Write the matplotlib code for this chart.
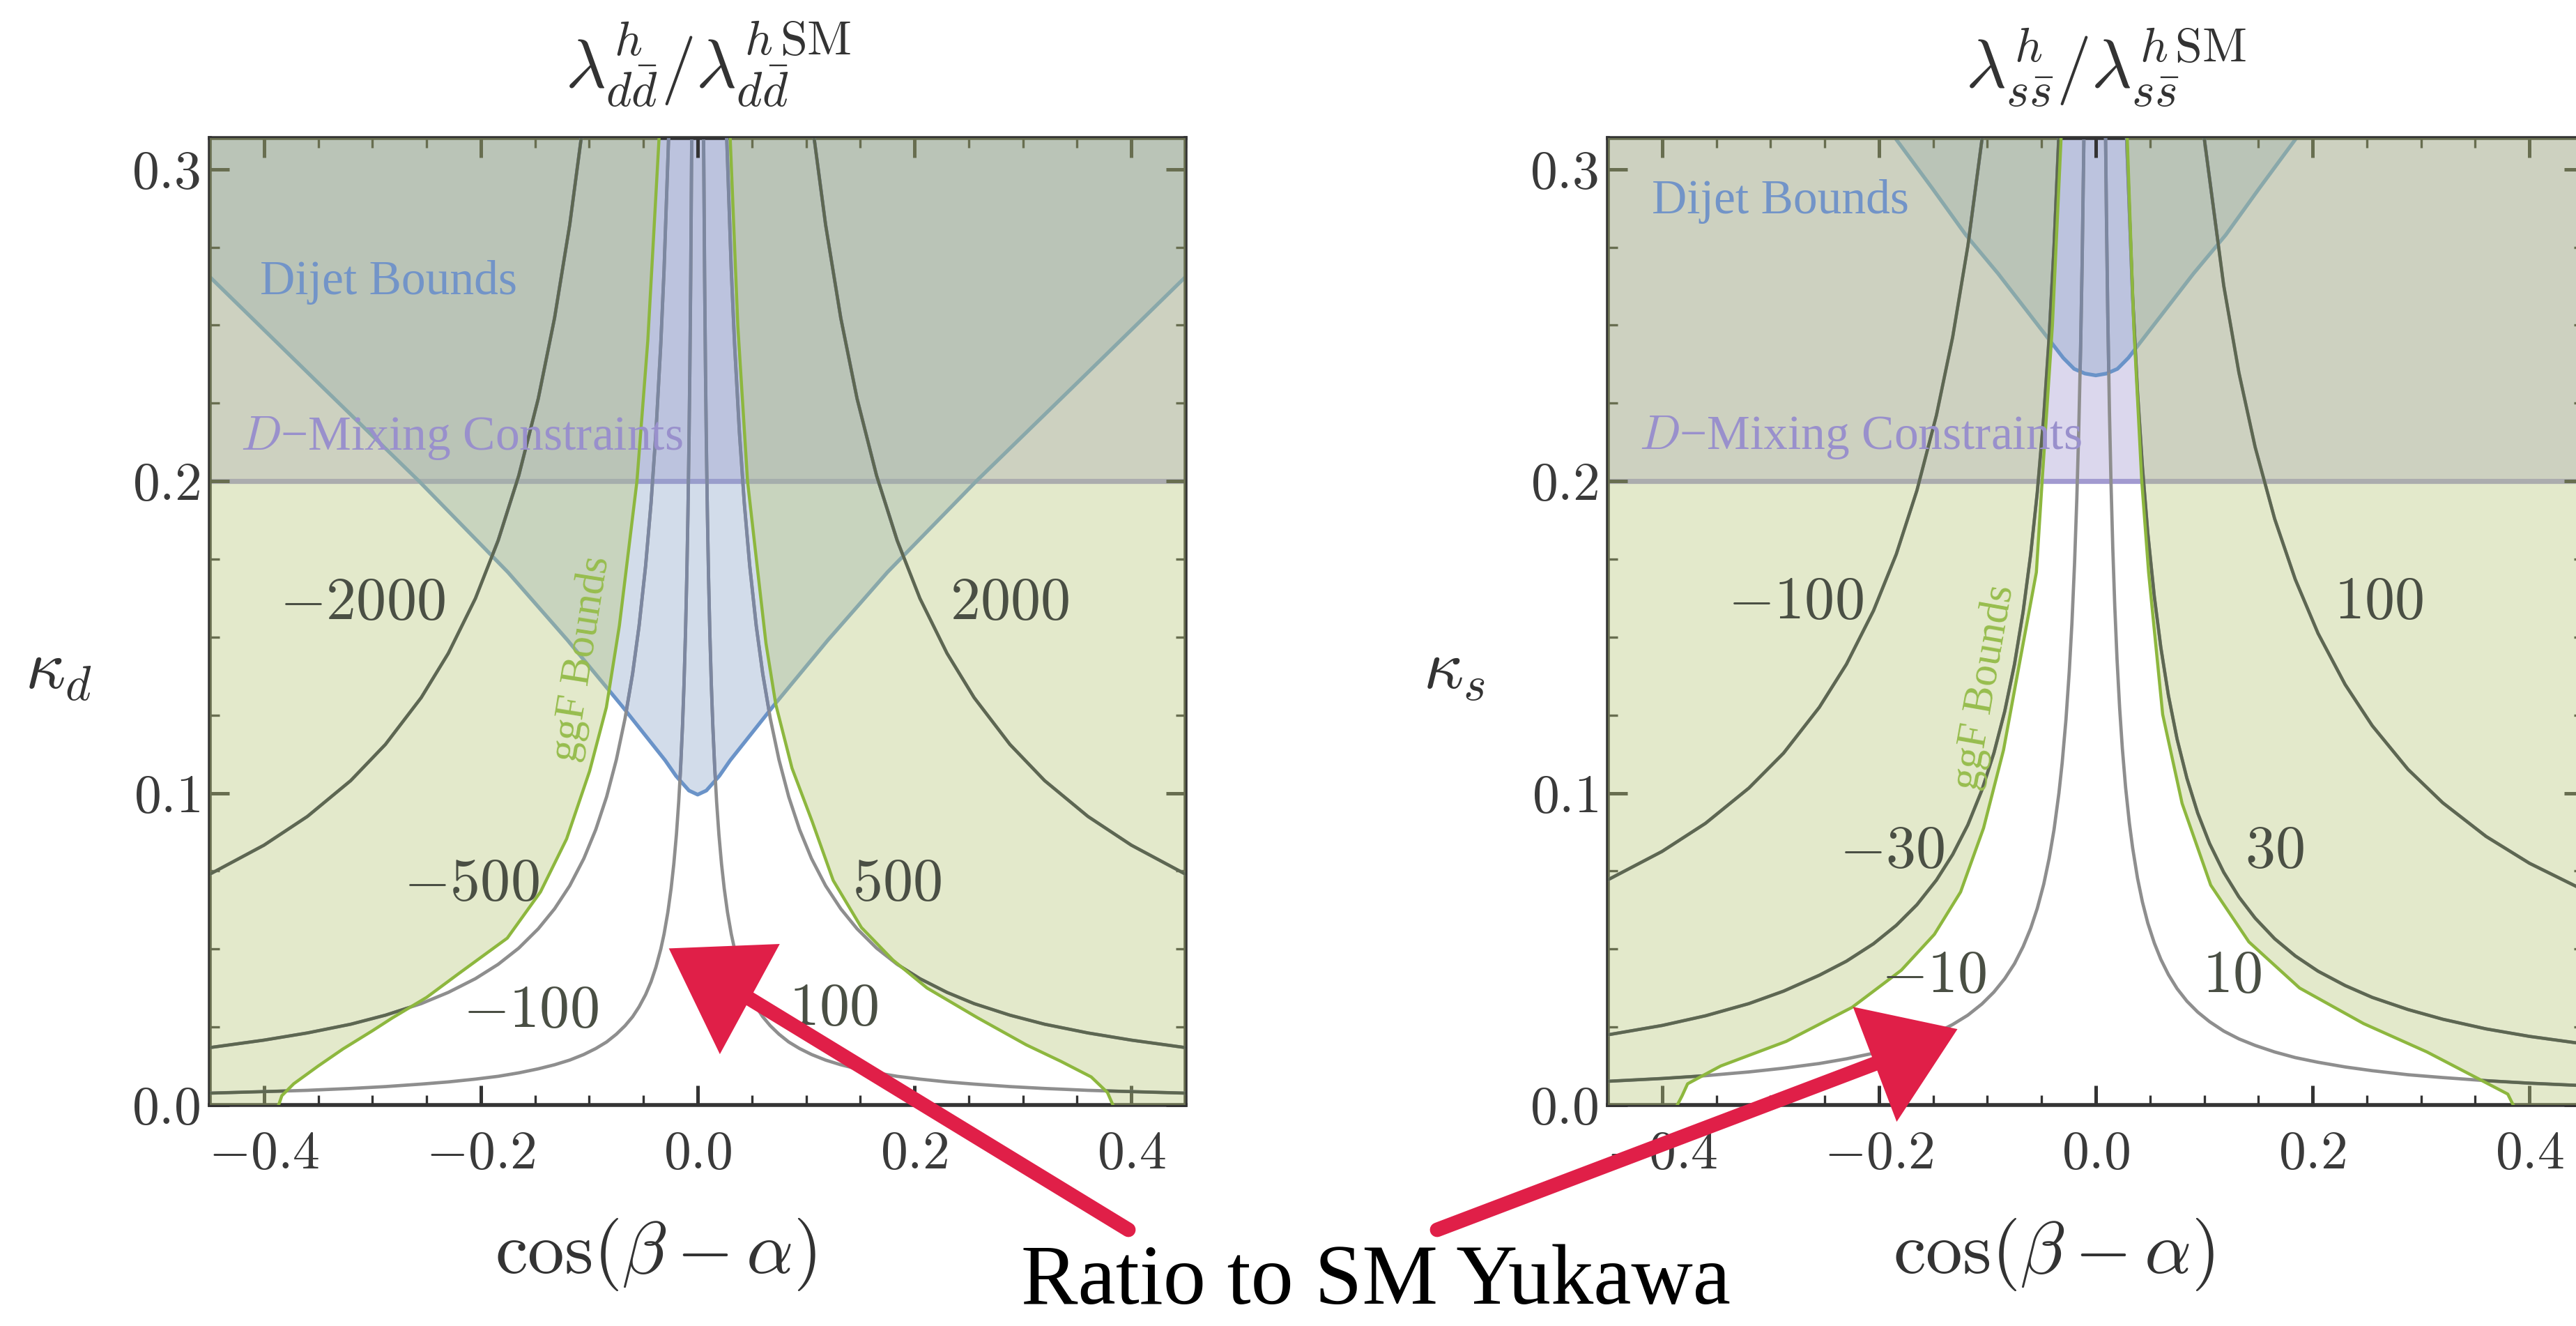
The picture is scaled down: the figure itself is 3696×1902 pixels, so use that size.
import numpy as np
import matplotlib
matplotlib.use("Agg")
import matplotlib.pyplot as plt
from matplotlib.path import Path
from matplotlib.patches import Polygon
from matplotlib.lines import Line2D
from matplotlib.ticker import MultipleLocator, FuncFormatter

plt.rcParams['mathtext.fontset'] = 'cm'
plt.rcParams['font.family'] = ['Liberation Serif', 'DejaVu Serif']

# ------------------------------------------------------------------ data
XLIM = (-0.45, 0.45)
YLIM = (0.0, 0.31)
x_major = [-0.4, -0.2, 0.0, 0.2, 0.4]
y_major = [0.0, 0.1, 0.2, 0.3]
d_mixing_kappa = 0.2

# ---- down quark panel: symmetric contours, |cos(b-a)| vs kappa_d
d_abs_2000 = [0.45, 0.40, 0.36, 0.32, 0.288, 0.255, 0.23, 0.205, 0.184, 0.165, 0.147, 0.132, 0.118, 0.1074]
d_kap_2000 = [0.074, 0.0833, 0.0925, 0.104, 0.1156, 0.1306, 0.1448, 0.1624, 0.181, 0.2018, 0.2265, 0.2523, 0.2822, 0.31]

d_abs_500 = [0.45, 0.40, 0.36, 0.32, 0.288, 0.255, 0.23, 0.205, 0.184, 0.165, 0.147, 0.132, 0.118,
             0.105, 0.094, 0.084, 0.075, 0.067, 0.060, 0.054, 0.048, 0.043, 0.0385, 0.034, 0.031, 0.0268]
d_kap_500 = [0.0184, 0.0208, 0.0231, 0.0259, 0.0288, 0.0325, 0.0361, 0.0405, 0.0451, 0.0503, 0.0565, 0.0629, 0.0703,
             0.079, 0.0883, 0.0988, 0.1107, 0.1239, 0.1383, 0.1537, 0.1729, 0.193, 0.2156, 0.2441, 0.2677, 0.31]

d_abs_100 = [0.45, 0.40, 0.36, 0.32, 0.288, 0.255, 0.23, 0.205, 0.184, 0.165, 0.147, 0.132, 0.118, 0.105,
             0.094, 0.084, 0.075, 0.067, 0.060, 0.054, 0.048, 0.043, 0.0385, 0.034, 0.031, 0.0275, 0.0245,
             0.022, 0.0196, 0.0175, 0.0157, 0.014, 0.0126, 0.0112, 0.010, 0.009, 0.008, 0.0072, 0.0064, 0.0055]
d_kap_100 = [0.0038, 0.0043, 0.0047, 0.0053, 0.0059, 0.0067, 0.0074, 0.0083, 0.0092, 0.0103, 0.0116, 0.0129, 0.0144, 0.0162,
             0.0181, 0.0202, 0.0227, 0.0254, 0.0283, 0.0315, 0.0354, 0.0395, 0.0442, 0.05, 0.0548, 0.0618, 0.0694,
             0.0773, 0.0867, 0.0971, 0.1083, 0.1214, 0.1349, 0.1518, 0.17, 0.189, 0.2125, 0.236, 0.2656, 0.309]

d_ggf_left_cos = [-0.3865, -0.3835, -0.3726, -0.350, -0.327, -0.300, -0.2817, -0.250, -0.2209, -0.1756,
                  -0.145, -0.1209, -0.0997, -0.0842, -0.0722, -0.0662, -0.056, -0.046, -0.0356]
d_ggf_left_kap = [0.0, 0.003, 0.0068, 0.0125, 0.018, 0.0238, 0.0279, 0.0345, 0.042, 0.0535,
                  0.0683, 0.0853, 0.107, 0.1275, 0.1537, 0.1708, 0.2, 0.245, 0.31]
d_ggf_right_cos = [0.383, 0.378, 0.363, 0.335, 0.303, 0.258, 0.2116, 0.180, 0.151, 0.125,
                   0.1055, 0.087, 0.072, 0.063, 0.0555, 0.046, 0.037, 0.030]
d_ggf_right_kap = [0.0, 0.004, 0.009, 0.014, 0.0193, 0.028, 0.0375, 0.0465, 0.0569, 0.072,
                   0.091, 0.108, 0.1285, 0.148, 0.1708, 0.2, 0.25, 0.31]

d_dijet_abs = [0.0, 0.008, 0.02, 0.03, 0.07, 0.12, 0.175, 0.257, 0.35, 0.45]
d_dijet_kap = [0.0995, 0.1008, 0.1055, 0.1105, 0.128, 0.149, 0.1708, 0.2, 0.2315, 0.2655]

d_labels = ['$-2000$', '$-500$', '$-100$', '$100$', '$500$', '$2000$']

# ---- strange quark panel
s_cos_m100 = [-0.45, -0.40, -0.36, -0.32, -0.288, -0.255, -0.23, -0.205, -0.184, -0.165, -0.147, -0.132, -0.118, -0.1048]
s_kap_m100 = [0.0722, 0.0813, 0.0903, 0.1016, 0.1128, 0.1275, 0.1413, 0.1585, 0.1766, 0.197, 0.2211, 0.2462, 0.2754, 0.31]
s_cos_p100 = [0.45, 0.40, 0.36, 0.32, 0.288, 0.255, 0.23, 0.205, 0.184, 0.165, 0.147, 0.132, 0.118, 0.100]
s_kap_p100 = [0.0689, 0.0775, 0.0861, 0.0969, 0.1076, 0.1216, 0.1348, 0.1512, 0.1685, 0.1879, 0.2109, 0.2348, 0.2627, 0.31]

s_cos_m30 = [-0.45, -0.40, -0.36, -0.32, -0.288, -0.255, -0.23, -0.205, -0.184, -0.165, -0.147, -0.132,
             -0.118, -0.105, -0.094, -0.084, -0.075, -0.067, -0.060, -0.054, -0.048, -0.043, -0.0385, -0.0342]
s_kap_m30 = [0.0225, 0.0255, 0.0286, 0.0325, 0.0365, 0.0416, 0.0461, 0.0517, 0.0576, 0.0642, 0.0721, 0.0803,
             0.0898, 0.101, 0.1128, 0.1262, 0.1413, 0.1582, 0.1767, 0.1963, 0.2208, 0.2465, 0.2753, 0.31]
s_cos_p30 = [0.45, 0.40, 0.36, 0.32, 0.288, 0.255, 0.23, 0.205, 0.184, 0.165, 0.147, 0.132,
             0.118, 0.105, 0.094, 0.084, 0.075, 0.067, 0.060, 0.054, 0.048, 0.043, 0.0385, 0.034, 0.0284]
s_kap_p30 = [0.0196, 0.022, 0.0244, 0.0275, 0.0306, 0.0345, 0.0383, 0.0429, 0.0478, 0.0533, 0.0599, 0.0667,
             0.0746, 0.0838, 0.0936, 0.1048, 0.1173, 0.1313, 0.1467, 0.163, 0.1833, 0.2047, 0.2286, 0.2588, 0.31]

s_cos_m10 = [-0.45, -0.40, -0.36, -0.32, -0.288, -0.255, -0.23, -0.205, -0.184, -0.165, -0.147, -0.132,
             -0.118, -0.105, -0.094, -0.084, -0.075, -0.067, -0.060, -0.054, -0.048, -0.043, -0.0385,
             -0.034, -0.031, -0.0275, -0.0245, -0.022, -0.0196, -0.0175, -0.0157, -0.014, -0.0126, -0.011]
s_kap_m10 = [0.0076, 0.0085, 0.0094, 0.0106, 0.0118, 0.0133, 0.0148, 0.0166, 0.0185, 0.0206, 0.0231, 0.0258,
             0.0288, 0.0324, 0.0362, 0.0405, 0.0453, 0.0508, 0.0567, 0.063, 0.0708, 0.0791, 0.0883,
             0.1, 0.1097, 0.1236, 0.1388, 0.1545, 0.1735, 0.1943, 0.2166, 0.2429, 0.2698, 0.309]
s_cos_p10 = [0.45, 0.40, 0.36, 0.32, 0.288, 0.255, 0.23, 0.205, 0.184, 0.165, 0.147, 0.132,
             0.118, 0.105, 0.094, 0.084, 0.075, 0.067, 0.060, 0.054, 0.048, 0.043, 0.0385,
             0.034, 0.031, 0.0275, 0.0245, 0.022, 0.0196, 0.0175, 0.0157, 0.014, 0.0126, 0.011, 0.0098, 0.009]
s_kap_p10 = [0.0062, 0.007, 0.0078, 0.0088, 0.0097, 0.011, 0.0122, 0.0137, 0.0152, 0.017, 0.0191, 0.0212,
             0.0237, 0.0267, 0.0298, 0.0333, 0.0373, 0.0418, 0.0467, 0.0519, 0.0583, 0.0651, 0.0727,
             0.0824, 0.0903, 0.1018, 0.1143, 0.1273, 0.1429, 0.16, 0.1783, 0.2, 0.2222, 0.2545, 0.2857, 0.311]

s_ggf_left_cos = [-0.386, -0.3815, -0.3765, -0.346, -0.2855, -0.2248, -0.1794, -0.1489, -0.1247, -0.1035,
                  -0.0851, -0.070, -0.0548, -0.0495, -0.040, -0.032]
s_ggf_left_kap = [0.0, 0.003, 0.0068, 0.0125, 0.0204, 0.0313, 0.0432, 0.0547, 0.0683, 0.0888,
                  0.1138, 0.1423, 0.1708, 0.2, 0.25, 0.31]
s_ggf_right_cos = [0.385, 0.380, 0.3497, 0.3055, 0.247, 0.188, 0.1412, 0.106, 0.0796, 0.0617, 0.0487, 0.0424, 0.035, 0.029]
s_ggf_right_kap = [0.0, 0.0035, 0.009, 0.017, 0.0261, 0.0375, 0.0523, 0.0705, 0.0967, 0.1252, 0.1708, 0.2, 0.25, 0.31]

s_dijet_abs = [0.0, 0.01, 0.02, 0.03, 0.04, 0.06, 0.09, 0.12, 0.15, 0.185]
s_dijet_kap = [0.2339, 0.2345, 0.236, 0.2395, 0.244, 0.253, 0.2665, 0.279, 0.2935, 0.31]

s_labels = ['$-100$', '$-30$', '$-10$', '$10$', '$30$', '$100$']

# ------------------------------------------------------------------ styles
W, H, DPI = 3696, 1902, 200
C_PURPLE, A_PURPLE = '#8a7dc6', 0.30
C_BLUE, A_BLUE = '#8ba3c8', 0.38
C_GREEN, A_GREEN = '#b9c87d', 0.40
LINE_GRAY = '#8e8e8e'
LINE_BLUE = '#7c87a0'
LINE_OLIVE = '#5d6751'
GGF_LINE = '#8db73e'
DIJET_LINE = '#6a93c8'
MIX_LINE = '#a29ad0'
TXT = '#3a3a3a'

fig = plt.figure(figsize=(W / DPI, H / DPI), dpi=DPI)
fig.patch.set_facecolor('white')


def closed_path(xs, ys):
    v = np.column_stack([xs, ys])
    v = np.vstack([v, v[:1]])
    return Path(v, closed=True)


def panel(ax, contours, ggf_left, ggf_right, dijet_x, dijet_y, labels, label_pos,
          dijet_txt, mix_txt, ggf_txt, title, ylab, ylab_xy, title_x):
    x0, x1 = XLIM
    y0, y1 = YLIM
    ax.set_xlim(x0, x1)
    ax.set_ylim(y0, y1)
    ax.set_facecolor('white')

    # D-mixing band
    ax.axhspan(d_mixing_kappa, y1 + 0.01, facecolor=C_PURPLE, alpha=A_PURPLE, edgecolor='none', zorder=1)
    ax.axhline(d_mixing_kappa, color=MIX_LINE, lw=2.6, zorder=1.05)

    # Dijet region (above the curve)
    px = list(dijet_x) + [dijet_x[-1], dijet_x[0]]
    py = list(dijet_y) + [y1 + 0.02, y1 + 0.02]
    dj_path = closed_path(px, py)
    ax.add_patch(Polygon(np.column_stack([px, py]), closed=True, facecolor=C_BLUE, alpha=A_BLUE,
                         edgecolor='none', zorder=1.1))
    ax.plot(dijet_x, dijet_y, color=DIJET_LINE, lw=1.9, zorder=1.15, solid_capstyle='butt')

    # ggF excluded regions
    lx, ly = ggf_left
    rx, ry = ggf_right
    lpx = list(lx) + [lx[-1], x0 - 0.02, x0 - 0.02, lx[0]]
    lpy = list(ly) + [y1 + 0.02, y1 + 0.02, y0 - 0.02, y0 - 0.02]
    rpx = list(rx) + [rx[-1], x1 + 0.02, x1 + 0.02, rx[0]]
    rpy = list(ry) + [y1 + 0.02, y1 + 0.02, y0 - 0.02, y0 - 0.02]
    for qx, qy in ((lpx, lpy), (rpx, rpy)):
        ax.add_patch(Polygon(np.column_stack([qx, qy]), closed=True, facecolor=C_GREEN, alpha=A_GREEN,
                             edgecolor='none', zorder=3))
    g_path = Path.make_compound_path(closed_path(lpx, lpy), closed_path(rpx, rpy))

    # contour lines
    for cx, cy in contours:
        ax.plot(cx, cy, color=LINE_GRAY, lw=1.7, zorder=4)
        lb, = ax.plot(cx, cy, color=LINE_BLUE, lw=1.7, zorder=4.05)
        lb.set_clip_path(dj_path, ax.transData)
        lg, = ax.plot(cx, cy, color=LINE_OLIVE, lw=1.6, zorder=4.1)
        lg.set_clip_path(g_path, ax.transData)

    ax.plot(lx, ly, color=GGF_LINE, lw=1.6, zorder=4.2)
    ax.plot(rx, ry, color=GGF_LINE, lw=1.6, zorder=4.2)

    # contour labels
    for t, (tx, ty) in zip(labels, label_pos):
        ax.text(tx, ty, t, fontsize=31, color='#4a4f44', ha='center', va='center', zorder=5)

    ax.text(dijet_txt[0], dijet_txt[1], 'Dijet Bounds', fontsize=25, color='#7294c8',
            ha='left', va='center', zorder=5)
    ax.text(mix_txt[0], mix_txt[1], '$D$\u2212Mixing Constraints', fontsize=25, color='#9990cc',
            ha='left', va='center', zorder=5)
    ax.text(ggf_txt[0], ggf_txt[1], 'ggF Bounds', fontsize=22, color='#97bd4e', rotation=ggf_txt[2],
            rotation_mode='anchor', ha='center', va='center', zorder=5)

    # axes styling
    for s in ax.spines.values():
        s.set_color('#333333')
        s.set_linewidth(2.0)
    ax.xaxis.set_major_locator(plt.FixedLocator(x_major))
    ax.yaxis.set_major_locator(plt.FixedLocator(y_major))
    ax.xaxis.set_minor_locator(MultipleLocator(0.05))
    ax.yaxis.set_minor_locator(MultipleLocator(0.025))
    fmt = FuncFormatter(lambda v, p: '$%.1f$' % (0.0 if abs(v) < 1e-9 else v))
    ax.xaxis.set_major_formatter(fmt)
    ax.yaxis.set_major_formatter(fmt)
    ax.tick_params(which='both', direction='in', top=True, right=True, colors='#333333')
    ax.tick_params(which='major', length=10, width=1.8, labelsize=28, labelcolor=TXT)
    ax.tick_params(which='minor', length=5, width=1.2)
    ax.tick_params(axis='x', which='major', pad=13)
    ax.tick_params(axis='y', which='major', pad=5)

    # titles / labels (figure coordinates)
    fig.text(title_x / W, 1 - 127 / H, title, fontsize=36, color='#333333', ha='center', va='baseline')
    fig.text(ylab_xy[0] / W, 1 - ylab_xy[1] / H, ylab, fontsize=36, color='#333333', ha='center', va='center')
    bb = ax.get_position()
    fig.text(bb.x0 + 0.457 * bb.width, 1 - 1800 / H, r'$\cos(\beta-\alpha)$', fontsize=38,
             color='#333333', ha='center', va='center')


ax1 = fig.add_axes([301 / W, 1 - 1585 / H, 1400 / W, 1387 / H])
ax2 = fig.add_axes([2307 / W, 1 - 1585 / H, 1400 / W, 1387 / H])

d_contours = [
    ([-v for v in d_abs_2000], d_kap_2000), (d_abs_2000, d_kap_2000),
    ([-v for v in d_abs_500], d_kap_500), (d_abs_500, d_kap_500),
    ([-v for v in d_abs_100], d_kap_100), (d_abs_100, d_kap_100),
]
d_dj_x = [-v for v in d_dijet_abs[::-1]] + d_dijet_abs[1:]
d_dj_y = d_dijet_kap[::-1] + d_dijet_kap[1:]
panel(ax1, d_contours, (d_ggf_left_cos, d_ggf_left_kap), (d_ggf_right_cos, d_ggf_right_kap),
      d_dj_x, d_dj_y, d_labels,
      [(-0.309, 0.1605), (-0.209, 0.0703), (-0.1543, 0.0297), (0.1254, 0.0304), (0.184, 0.0703), (0.2875, 0.1605)],
      (-0.404, 0.2638), (-0.422, 0.2138), (-0.107, 0.143, 81),
      r'$\lambda^{h}_{d\bar{d}}/\lambda^{h\,\mathrm{SM}}_{d\bar{d}}$', r'$\kappa_d$', (84, 964), 1016)

s_contours = [
    (s_cos_m100, s_kap_m100), (s_cos_p100, s_kap_p100),
    (s_cos_m30, s_kap_m30), (s_cos_p30, s_kap_p30),
    (s_cos_m10, s_kap_m10), (s_cos_p10, s_kap_p10),
]
s_dj_x = [-v for v in s_dijet_abs[::-1]] + s_dijet_abs[1:]
s_dj_y = s_dijet_kap[::-1] + s_dijet_kap[1:]
panel(ax2, s_contours, (s_ggf_left_cos, s_ggf_left_kap), (s_ggf_right_cos, s_ggf_right_kap),
      s_dj_x, s_dj_y, s_labels,
      [(-0.277, 0.1607), (-0.1878, 0.0808), (-0.1494, 0.0409), (0.1258, 0.0409), (0.1646, 0.0808), (0.261, 0.1607)],
      (-0.4096, 0.2897), (-0.421, 0.214), (-0.103, 0.134, 80),
      r'$\lambda^{h}_{s\bar{s}}/\lambda^{h\,\mathrm{SM}}_{s\bar{s}}$', r'$\kappa_s$', (2086, 964), 3022)

# ---------------------------------------------------------------- annotation
fig.text(1974 / W, 1 - 1870 / H, 'Ratio to SM Yukawa', fontsize=44, color='black',
         family=['Liberation Serif'], ha='center', va='baseline')

RED = '#e01f48'


def fpt(x, y):
    return (x / W, 1 - y / H)


for tail, base, tri in (
        ((1619, 1764), (1073, 1431), [(964, 1363), (1114, 1357), (1033, 1506)]),
        ((2062, 1764), (2692, 1525), [(2663, 1448), (2804, 1478), (2722, 1603)])):
    t = fpt(*tail)
    b = fpt(*base)
    fig.add_artist(Line2D([t[0], b[0]], [t[1], b[1]], transform=fig.transFigure,
                          color=RED, lw=7.5, solid_capstyle='round', zorder=20))
    fig.add_artist(Polygon([fpt(*p) for p in tri], closed=True, transform=fig.transFigure,
                           facecolor=RED, edgecolor=RED, lw=2, zorder=21))

fig.savefig('out.png', dpi=DPI, facecolor='white')
